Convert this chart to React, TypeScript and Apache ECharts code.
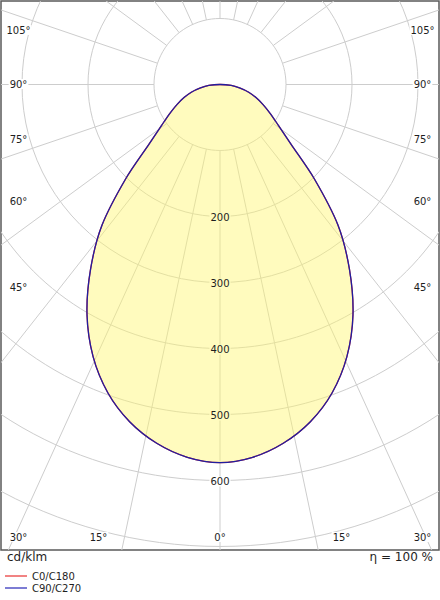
import React, { useEffect, useRef } from "react";
import * as echarts from "echarts";

// ---- data (cd/klm), gamma angles in degrees ----
const GAMMA = [0, 5, 10, 15, 20, 25, 30, 35, 40, 45, 50, 55, 60, 65, 70, 75, 80, 85, 90, 95, 100, 105, 110, 115, 120, 125, 130, 135, 140, 145, 150, 155, 160, 165, 170, 175, 180];
const C0_C180 = [573, 567, 552, 529, 497, 455, 403, 342, 278, 202, 140, 108, 88, 72, 58, 45, 30, 17, 0, 0, 0, 0, 0, 0, 0, 0, 0, 0, 0, 0, 0, 0, 0, 0, 0, 0, 0];
const C90_C270 = [573, 567, 552, 529, 497, 455, 403, 342, 278, 202, 140, 108, 88, 72, 58, 45, 30, 17, 0, 0, 0, 0, 0, 0, 0, 0, 0, 0, 0, 0, 0, 0, 0, 0, 0, 0, 0];
const SERIES_NAMES = ["C0/C180", "C90/C270"];
const RADIUS_LABELS = [200, 300, 400, 500, 600];
const GRID_CIRCLES = [100, 200, 300, 400, 500, 600, 700];
const GRID_ANGLES = [0, 15, 30, 45, 60, 75, 90, 105, 120, 135, 150, 165, 180];
const SIDE_ANGLE_LABELS = ["105°", "90°", "75°", "60°", "45°"];
const BOTTOM_ANGLE_LABELS = ["30°", "15°", "0°", "15°", "30°"];
const UNIT_LABEL = "cd/klm";
const EFFICIENCY_LABEL = "η = 100 %";

// ---- layout ----
const PX_PER_CD = 0.66;
const CX = 220;
const CY = 84.5;
const G_LEFT = 1;
const G_TOP = 1;
const G_RIGHT = 439;
const G_BOTTOM = 550;
const RAY_K = 1.27;
const SMOOTH = 0.3;
const FONT = '"DejaVu Sans", Verdana, sans-serif';
const SIDE_Y = [30, 84, 139, 201, 287];
const BOTTOM_X = [18.5, 98.5, 220, 341.5, 422.5];
const FILL_SEEN = "rgb(255,251,190)";
const COLORS = ["#e83030", "#2626b8"];

function curvePoints(vals: number[]): number[][] {
  const pts: number[][] = [];
  const push = (p: number[]) => {
    const l = pts[pts.length - 1];
    if (!l || Math.abs(l[0] - p[0]) > 1e-9 || Math.abs(l[1] - p[1]) > 1e-9) pts.push(p);
  };
  for (let i = GAMMA.length - 1; i >= 0; i--) {
    const a = (GAMMA[i] * Math.PI) / 180;
    push([-vals[i] * Math.sin(a), -vals[i] * Math.cos(a)]);
  }
  for (let i = 1; i < GAMMA.length; i++) {
    const a = (GAMMA[i] * Math.PI) / 180;
    push([vals[i] * Math.sin(a), -vals[i] * Math.cos(a)]);
  }
  const f = pts[0];
  const l = pts[pts.length - 1];
  if (pts.length > 1 && Math.abs(f[0] - l[0]) < 1e-9 && Math.abs(f[1] - l[1]) < 1e-9) pts.pop();
  return pts;
}

export default function App() {
  const ref = useRef<HTMLDivElement>(null);
  useEffect(() => {
    if (!ref.current) return;
    const chart = echarts.init(ref.current, null, { renderer: "svg" });

    const xMin = (G_LEFT - CX) / PX_PER_CD;
    const xMax = (G_RIGHT - CX) / PX_PER_CD;
    const yMax = (CY - G_TOP) / PX_PER_CD;
    const yMin = -(G_BOTTOM - CY) / PX_PER_CD;

    const rays: number[][] = [];
    GRID_ANGLES.forEach((g) => {
      rays.push([g, -1]);
      if (g !== 0 && g !== 180) rays.push([g, 1]);
    });

    const curves = [curvePoints(C0_C180), curvePoints(C90_C270)];

    const graphic: any[] = [];
    const txt = (text: string, x: number, y: number, align: string, size: number, bg?: string) => ({
      type: "text",
      x,
      y,
      z: 20,
      style: {
        text,
        fill: "#1e1e1e",
        font: `${size}px ${FONT}`,
        align,
        textAlign: align,
        verticalAlign: "middle",
        textVerticalAlign: "middle",
        backgroundColor: bg,
        padding: bg ? [0, 1] : 0,
      },
    });
    SIDE_ANGLE_LABELS.forEach((t, i) => {
      graphic.push(txt(t, 18.5, SIDE_Y[i], "center", 10, "#fff"));
      graphic.push(txt(t, 422.5, SIDE_Y[i], "center", 10, "#fff"));
    });
    BOTTOM_ANGLE_LABELS.forEach((t, i) => {
      graphic.push(txt(t, BOTTOM_X[i], 537, "center", 10, "#fff"));
    });
    graphic.push(txt(UNIT_LABEL, 7, 557, "left", 12));
    graphic.push(txt(EFFICIENCY_LABEL, 433, 557, "right", 12));

    const curveSeries = (idx: number) => ({
      type: "custom",
      name: SERIES_NAMES[idx],
      clip: true,
      silent: true,
      z: 4 + idx,
      itemStyle: { color: COLORS[idx] },
      data: [[0, 0]],
      renderItem: (_p: any, api: any) => ({
        type: "polygon",
        shape: { points: curves[idx].map((p) => api.coord(p)), smooth: SMOOTH },
        style: { fill: "none", stroke: idx === 1 ? "#1f1fa0" : COLORS[idx], lineWidth: 1.3 },
      }),
    });

    const option: any = {
      animation: false,
      backgroundColor: "#fff",
      grid: {
        left: G_LEFT,
        top: G_TOP,
        width: G_RIGHT - G_LEFT,
        height: G_BOTTOM - G_TOP,
        show: true,
        borderColor: "#5a5a5a",
        borderWidth: 1.5,
        backgroundColor: "#fff",
      },
      xAxis: { type: "value", min: xMin, max: xMax, show: false },
      yAxis: { type: "value", min: yMin, max: yMax, show: false },
      legend: {
        orient: "vertical",
        left: 5,
        top: 570,
        padding: 0,
        itemWidth: 22,
        itemHeight: 1.2,
        itemGap: 0,
        icon: "rect",
        data: SERIES_NAMES.map((n, i) => ({ name: n, itemStyle: { color: COLORS[i] } })),
        textStyle: { fontSize: 10, fontFamily: FONT, color: "#1e1e1e", lineHeight: 12 },
      },
      graphic,
      series: [
        {
          type: "custom",
          name: "circles",
          clip: true,
          silent: true,
          z: 1,
          data: GRID_CIRCLES.map((r) => [r, 0]),
          renderItem: (_p: any, api: any) => {
            const r = api.value(0);
            const c = api.coord([0, 0]);
            const e = api.coord([r, 0]);
            return {
              type: "circle",
              shape: { cx: c[0], cy: c[1], r: e[0] - c[0] },
              style: { fill: "none", stroke: "#cdcdcd", lineWidth: 1 },
            };
          },
        },
        {
          type: "custom",
          name: "rays",
          clip: true,
          silent: true,
          z: 1,
          data: rays,
          renderItem: (_p: any, api: any) => {
            const g = (api.value(0) * Math.PI) / 180;
            const s = api.value(1);
            let ux = s * Math.sin(g);
            let uy = -RAY_K * Math.cos(g);
            const n = Math.hypot(ux, uy);
            ux /= n;
            uy /= n;
            const a = api.coord([GRID_CIRCLES[0] * ux, GRID_CIRCLES[0] * uy]);
            const b = api.coord([1400 * ux, 1400 * uy]);
            return {
              type: "line",
              shape: { x1: a[0], y1: a[1], x2: b[0], y2: b[1] },
              style: { stroke: "#cdcdcd", lineWidth: 1 },
            };
          },
        },
        {
          type: "custom",
          name: "fill",
          clip: true,
          silent: true,
          z: 2,
          data: [[0, 0]],
          renderItem: (_p: any, api: any) => ({
            type: "polygon",
            shape: { points: curves[1].map((p) => api.coord(p)), smooth: SMOOTH },
            style: { fill: "rgba(255,246,110,0.45)", stroke: "none" },
          }),
        },
        {
          type: "custom",
          name: "radius labels",
          clip: true,
          silent: true,
          z: 3,
          data: RADIUS_LABELS.map((r) => [0, -r]),
          renderItem: (_p: any, api: any) => {
            const p = api.coord([api.value(0), api.value(1)]);
            const r = -api.value(1);
            return {
              type: "text",
              style: {
                text: String(r),
                x: p[0],
                y: p[1] + 1,
                fill: "#1e1e1e",
                font: `10px ${FONT}`,
                align: "center",
                verticalAlign: "middle",
                backgroundColor: r < C90_C270[0] ? FILL_SEEN : "#fff",
                padding: [0, 1],
              },
            };
          },
        },
        curveSeries(0),
        curveSeries(1),
      ],
    };
    chart.setOption(option);
    return () => chart.dispose();
  }, []);

  return (
    <div
      ref={ref}
      style={{ position: "absolute", left: 0, top: 0, width: 440, height: 600, background: "#fff" }}
    />
  );
}
